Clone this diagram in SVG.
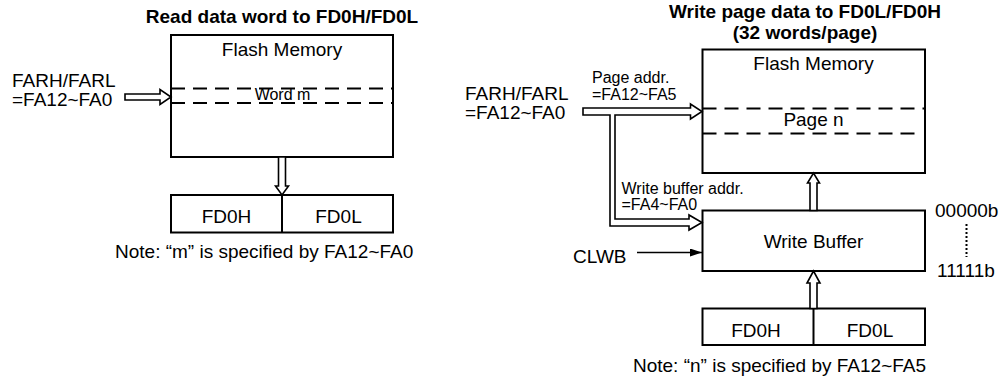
<svg xmlns="http://www.w3.org/2000/svg" width="1003" height="381" viewBox="0 0 1003 381">
<defs>
<style>
text{font-family:"Liberation Sans",Arial,sans-serif;fill:#000}
.t{font-size:19px;font-weight:bold;text-anchor:middle}
.m{font-size:19px}
.c{text-anchor:middle}
.s{font-size:16px}
.box{fill:#fff;stroke:#000;stroke-width:2}
.dash{fill:none;stroke:#000;stroke-width:1.8;stroke-dasharray:14 8}
.ha{fill:#fff;stroke:#000;stroke-width:1.6;stroke-linejoin:miter}
.ln{fill:none;stroke:#000;stroke-width:1.6}
</style>
<marker id="ah" viewBox="0 0 12 8" refX="12" refY="4" markerWidth="12" markerHeight="8" markerUnits="userSpaceOnUse" orient="auto">
<path d="M0,0 L12,4 L0,8 Z" fill="#000"/>
</marker>
</defs>

<text class="t" x="282" y="23">Read data word to FD0H/FD0L</text>
<text class="t" x="805" y="17.5">Write page data to FD0L/FD0H</text>
<text class="t" x="805" y="38.5">(32 words/page)</text>

<g id="flash-left">
<rect class="box" x="171" y="35" width="222" height="122"/>
<text class="m c" x="282" y="55.5">Flash Memory</text>
<line class="dash" x1="171" y1="88.5" x2="393" y2="88.5"/>
<line class="dash" x1="171" y1="103" x2="393" y2="103"/>
<text class="s c" x="282.5" y="99.5">Word m</text>
</g>

<g id="farh-left">
<text class="m" x="12" y="87">FARH/FARL</text>
<text class="m" x="12" y="106">=FA12~FA0</text>
</g>

<g id="fd0-left">
<rect class="box" x="171" y="195" width="222" height="37.5"/>
<line class="ln" x1="282" y1="195" x2="282" y2="232.5" style="stroke-width:2"/>
<text class="m c" x="226.5" y="223">FD0H</text>
<text class="m c" x="338.5" y="223">FD0L</text>
</g>

<g id="note-left">
<text class="m" x="115" y="258">Note: “m” is specified by FA12~FA0</text>
</g>

<g id="flash-right">
<rect class="box" x="702.5" y="49.5" width="222.5" height="123.5"/>
<text class="m c" x="813.5" y="69.5">Flash Memory</text>
<line class="dash" x1="702.5" y1="108.5" x2="925" y2="108.5"/>
<line class="dash" x1="702.5" y1="133.5" x2="920" y2="133.5"/>
<text class="m c" x="813.5" y="126">Page n</text>
</g>

<g id="farh-right">
<text class="m" x="465" y="99.5">FARH/FARL</text>
<text class="m" x="465" y="118.5">=FA12~FA0</text>
</g>

<g id="wb">
<rect class="box" x="702.5" y="210.5" width="222.5" height="60.5"/>
<text class="m c" x="813.5" y="248">Write Buffer</text>
</g>

<g id="fd0-right">
<rect class="box" x="702.5" y="308.5" width="222.5" height="36.5"/>
<line class="ln" x1="813.5" y1="308.5" x2="813.5" y2="345" style="stroke-width:2"/>
<text class="m c" x="756" y="336.5">FD0H</text>
<text class="m c" x="870" y="336.5">FD0L</text>
</g>

<g id="note-right">
<text class="m c" x="779.5" y="371.5">Note: “n” is specified by FA12~FA5</text>
</g>

<g id="clwb">
<text class="m" x="573" y="263">CLWB</text>
</g>

<g id="range">
<text class="m" x="935" y="217">00000b</text>
<line x1="966.5" y1="224" x2="966.5" y2="257" stroke="#000" stroke-width="2" stroke-dasharray="2 2"/>
<text class="m" x="937" y="277">11111b</text>
</g>

<g id="labels">
<text class="s" x="592" y="83">Page addr.</text>
<text class="s" x="592" y="99.5">=FA12~FA5</text>
<text class="s" x="621.5" y="193.5">Write buffer addr.</text>
<text class="s" x="621.5" y="210">=FA4~FA0</text>
</g>

<g id="connectors">
<path class="ha" d="M125,94 H160 V89.5 L171,97 L160,104.5 V100 H125 Z"/>
<path class="ha" d="M278.5,157 V186 H275.5 L282,195 L288.5,186 H285.5 V157 Z"/>
<path class="ha" d="M583,108 H690.5 V104 L702,111.5 L690.5,119 V115 H615 V219 H689 V215 L702,222.5 L689,230 V226 H610 V115 H583 Z"/>
<path class="ha" d="M810,210.5 V183 H807.5 L813.5,173 L819.5,183 H817 V210.5 Z"/>
<path class="ha" d="M810,308.5 V283 H807 L813.5,271 L820,283 H817 V308.5 Z"/>
<line class="ln" x1="637" y1="252.5" x2="702" y2="252.5" marker-end="url(#ah)"/>
</g>
</svg>
